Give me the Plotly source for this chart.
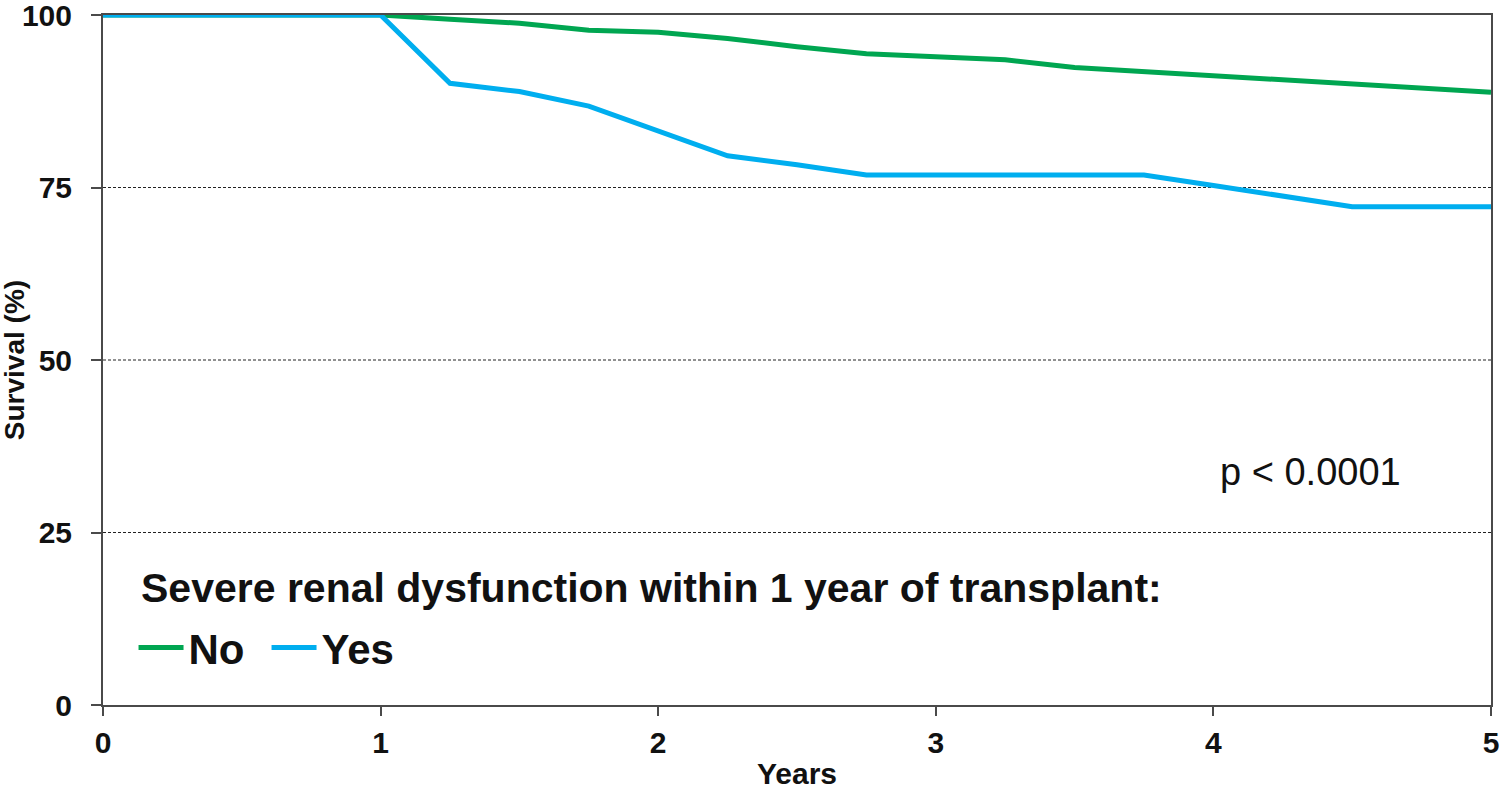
import plotly.graph_objects as go

years = [0, 0.25, 0.5, 0.75, 1.0, 1.25, 1.5, 1.75, 2.0, 2.25, 2.5, 2.75, 3.0,
         3.25, 3.5, 3.75, 4.0, 4.25, 4.5, 4.75, 5.0]
surv_no = [100, 100, 100, 100, 100, 99.4, 98.8, 97.8, 97.5, 96.6, 95.4, 94.4, 94.0,
           93.5, 92.4, 91.8, 91.2, 90.6, 90.1, 89.5, 88.8]
surv_yes = [100, 100, 100, 100, 100, 90.1, 88.9, 86.8, 83.2, 79.6, 78.3, 76.8, 76.8,
            76.8, 76.8, 76.8, 75.3, 73.7, 72.2, 72.2, 72.2]
series_names = ["No", "Yes"]
series_colors = ["#00A651", "#00AEEF"]
x_ticks = [0, 1, 2, 3, 4, 5]
y_ticks = [0, 25, 50, 75, 100]
legend_title = "Severe renal dysfunction within 1 year of transplant:"
p_text = "p < 0.0001"
y_title = "Survival (%)"
x_title = "Years"

FONT = "Arial, Liberation Sans, sans-serif"
AXIS_COLOR = "#4a4a4a"
TXT = "#111111"

fig = go.Figure()
for name, vals, col in zip(series_names, [surv_no, surv_yes], series_colors):
    fig.add_trace(go.Scatter(x=years, y=vals, mode="lines", name=name,
                             line=dict(color=col, width=5)))

# dashed reference lines at 25/50/75
for yv in [25, 50, 75]:
    fig.add_hline(y=yv, line=dict(color="#222222", width=1, dash="3px,2px"), layer="below")

fig.add_annotation(x=4.35, y=33.8, xref="x", yref="y", text=p_text, showarrow=False,
                   font=dict(family=FONT, size=38, color=TXT))

# legend heading
fig.add_annotation(x=0.026, y=17.0, xref="paper", yref="y", xanchor="left", yanchor="middle",
                   text=legend_title, showarrow=False,
                   font=dict(family=FONT, size=41, weight="bold", color=TXT))

# y-axis title
fig.add_annotation(x=-0.064, y=0.5, xref="paper", yref="paper", xanchor="center",
                   yanchor="middle", textangle=-90, text=y_title, showarrow=False,
                   font=dict(family=FONT, size=28, weight="bold", color=TXT))

fig.update_layout(
    width=1500, height=790,
    margin=dict(l=103, r=9, t=15, b=85),
    paper_bgcolor="white", plot_bgcolor="white",
    font=dict(family=FONT, color=TXT),
    showlegend=True,
    legend=dict(
        orientation="h", x=0.022, y=0.083, xanchor="left", yanchor="middle",
        bgcolor="rgba(0,0,0,0)",
        font=dict(family=FONT, size=42, weight="bold", color=TXT),
        itemwidth=45, entrywidth=73, tracegroupgap=0,
    ),
    xaxis=dict(
        range=[0, 5], tickvals=x_ticks, ticks="outside", ticklen=9, tickwidth=2,
        tickcolor=AXIS_COLOR, showline=True, linecolor=AXIS_COLOR, linewidth=2,
        mirror=True, showgrid=False, zeroline=False, ticklabeloverflow="allow",
        ticklabelstandoff=1, automargin=False,
        tickfont=dict(family=FONT, size=30, weight="bold", color=TXT),
        title=dict(text=x_title, standoff=5,
                   font=dict(family=FONT, size=30, weight="bold", color=TXT)),
    ),
    yaxis=dict(
        range=[0, 100], tickvals=y_ticks, ticks="outside", ticklen=10, tickwidth=2,
        tickcolor=AXIS_COLOR, showline=True, linecolor=AXIS_COLOR, linewidth=2,
        mirror=True, showgrid=False, zeroline=False, ticklabeloverflow="allow",
        ticklabelstandoff=13, automargin=False,
        tickfont=dict(family=FONT, size=30, weight="bold", color=TXT),
    ),
)

fig.write_html("out.html", config={"displayModeBar": False},
               post_script="document.body.style.margin='0';document.body.style.overflow='hidden';")
